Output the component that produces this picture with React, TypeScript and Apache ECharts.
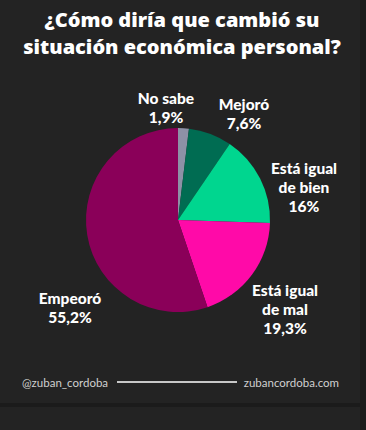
import React, { useEffect, useRef } from "react";
import * as echarts from "echarts";

const categories = ["No sabe", "Mejoró", "Está igual\nde bien", "Está igual\nde mal", "Empeoró"];
const values = [1.9, 7.6, 16, 19.3, 55.2];
const colors = ["#8d91a6", "#006c52", "#00d68f", "#ff0aa8", "#8a0059"];
const titleLines = ["¿Cómo diría que cambió su", "situación económica personal?"];
const labelPos = [
  [166, 107],
  [244, 113],
  [304, 187],
  [285, 309],
  [70, 307],
];

export default function App() {
  const ref = useRef<HTMLDivElement>(null);
  useEffect(() => {
    const chart = echarts.init(ref.current!, null, { renderer: "svg" });
    const font = "Lato";
    const titleStyle = (text: string, y: number) => ({
      type: "text",
      x: 182,
      y,
      style: {
        text,
        fill: "#ffffff",
        font: `800 20px 'Open Sans'`,
        textAlign: "center",
        textVerticalAlign: "middle",
      },
    });
    chart.setOption({
      animation: false,
      backgroundColor: "#1b1b1b",
      graphic: [
        { type: "rect", z: -10, shape: { x: 0, y: 0, width: 360, height: 403 }, style: { fill: "#232323" } },
        { type: "rect", z: -10, shape: { x: 0, y: 407, width: 360, height: 30 }, style: { fill: "#232323" } },
        titleStyle(titleLines[0], 19),
        titleStyle(titleLines[1], 46),
        { type: "line", shape: { x1: 117, y1: 382, x2: 237, y2: 382 }, style: { stroke: "#ffffff", lineWidth: 1.3 } },
        { type: "text", x: 22, y: 382, style: { text: "@zuban_cordoba", fill: "#d0d0d0", font: `11.5px ${font}`, textVerticalAlign: "middle" } },
        { type: "text", x: 339, y: 382, style: { text: "zubancordoba.com", fill: "#d0d0d0", font: `11.5px ${font}`, textAlign: "right", textVerticalAlign: "middle" } },
      ],
      series: [
        {
          type: "pie",
          center: [178, 220],
          radius: 92,
          startAngle: 90,
          clockwise: true,
          silent: true,
          data: categories.map((c, i) => ({ name: c, value: values[i], itemStyle: { color: colors[i] } })),
          labelLine: { show: false },
          label: {
            show: true,
            position: "outside",
            color: "#ffffff",
            fontFamily: font,
            fontWeight: 900,
            fontSize: 15.5,
            lineHeight: 19,
            align: "center",
            overflow: "none",
            formatter: (p: any) => `${p.name}\n${String(p.value).replace(".", ",")}%`,
          },
          labelLayout: (p: any) => ({
            x: labelPos[p.dataIndex][0],
            y: labelPos[p.dataIndex][1],
            align: "center",
            verticalAlign: "middle",
          }),
        },
      ],
    });
    return () => chart.dispose();
  }, []);
  return <div ref={ref} style={{ position: "fixed", left: 0, top: 0, width: 366, height: 430 }} />;
}
